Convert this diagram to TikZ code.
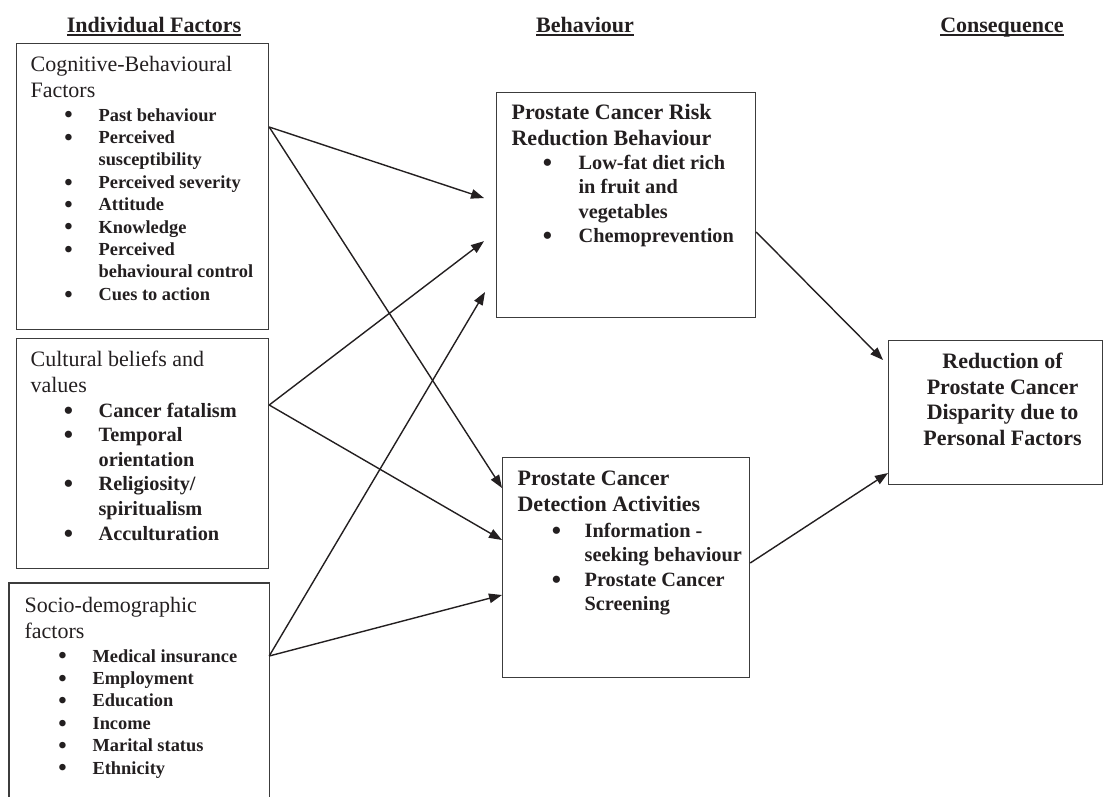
\documentclass[tikz,border=0pt]{standalone}
\usepackage{graphicx}
\usepackage{fontspec}
\setmainfont{Liberation Serif}
\usetikzlibrary{arrows.meta, positioning}

\definecolor{ink}{HTML}{231F20}
\definecolor{edgegray}{HTML}{3C3C3C}

\newlength{\bulpos}
\newlength{\txtpos}
% one bullet line, wrapped lines hang under the text
\newcommand{\bigdot}{\raisebox{-0.1em}{\scalebox{1.3}{\textbullet}}}
\newcommand{\bitem}[1]{\par\hangindent=\txtpos\hangafter=1\noindent
  \hspace*{\dimexpr\bulpos-0.2275em\relax}\makebox[\dimexpr\txtpos-\bulpos+0.2275em\relax][l]{\bigdot}#1\par}
% underlined heading
\newcommand{\hd}[1]{\setbox0\hbox{#1}\rlap{\rule[-3.6pt]{\wd0}{2pt}}\box0}
\newcommand{\regfont}{\fontsize{22}{25.5}\selectfont}
\newcommand{\headfont}{\fontsize{22}{25.5}\selectfont\bfseries}
\newcommand{\smallbul}{\fontsize{18.4}{22.4}\selectfont\bfseries}
\newcommand{\bigbul}{\fontsize{20.3}{24.6}\selectfont\bfseries}

\tikzset{
  panel/.style={draw=edgegray, line width=1.2pt, inner sep=0pt, anchor=north west, text=ink},
  link/.style={-{Triangle[length=13pt,width=9.5pt]}, line width=1.4pt, draw=ink},
  heading/.style={anchor=base, inner sep=0pt, text=ink, font=\headfont}
}

\begin{document}
\begin{tikzpicture}[x=1pt, y=-1pt]
  \useasboundingbox (0,0) rectangle (1103,796);

  % column headings
  \node[heading] (hInd) at (154,32) {\hd{Individual Factors}};
  \node[heading] (hBeh) at (585,32) {\hd{Behaviour}};
  \node[heading] (hCon) at (1002,32) {\hd{Consequence}};

  % individual factors
  \node[panel] (cog) at (16,43) {\parbox[c][286pt][t]{252pt}{\raggedright\parindent=0pt
    \regfont\leftskip=14pt
    \rule{0pt}{28pt}Cognitive-Behavioural\\Factors\par
    \leftskip=0pt\vspace{1.6pt}
    \smallbul\setlength{\bulpos}{52pt}\setlength{\txtpos}{82pt}
    \bitem{Past behaviour}
    \bitem{Perceived\newline susceptibility}
    \bitem{Perceived severity}
    \bitem{Attitude}
    \bitem{Knowledge}
    \bitem{Perceived\newline behavioural control}
    \bitem{Cues to action}}};

  \node[panel] (cult) at (16,338) {\parbox[c][230pt][t]{252pt}{\raggedright\parindent=0pt
    \regfont\leftskip=14pt
    \rule{0pt}{28pt}Cultural beliefs and\\values\par
    \leftskip=0pt\vspace{0.4pt}
    \bigbul\setlength{\bulpos}{52pt}\setlength{\txtpos}{82pt}
    \bitem{Cancer fatalism}
    \bitem{Temporal\newline orientation}
    \bitem{Religiosity/\newline spiritualism}
    \bitem{Acculturation}}};

  \node[panel, draw=none] (socio) at (9,583) {\parbox[c][217pt][t]{259pt}{\raggedright\parindent=0pt
    \regfont\leftskip=15pt
    \rule{0pt}{29pt}Socio-demographic\\factors\par
    \leftskip=0pt\vspace{1.6pt}
    \smallbul\setlength{\bulpos}{53pt}\setlength{\txtpos}{83pt}
    \bitem{Medical insurance}
    \bitem{Employment}
    \bitem{Education}
    \bitem{Income}
    \bitem{Marital status}
    \bitem{Ethnicity}}};
  \draw[draw=edgegray, line width=1.2pt] (socio.south west) |- (socio.north east) -- (socio.south east);

  % behaviour
  \node[panel] (risk) at (496,92) {\parbox[c][225pt][t]{259pt}{\raggedright\parindent=0pt
    \headfont\leftskip=15pt
    \rule{0pt}{27pt}Prostate Cancer Risk\\Reduction Behaviour\par
    \leftskip=0pt\vspace{-0.6pt}
    \bigbul\setlength{\bulpos}{51pt}\setlength{\txtpos}{82pt}
    \bitem{Low-fat diet rich\newline in fruit and\newline vegetables}
    \bitem{Chemoprevention}}};

  \node[panel] (detect) at (502,457) {\parbox[c][220pt][t]{247pt}{\raggedright\parindent=0pt
    \headfont\leftskip=15pt
    \rule{0pt}{28pt}Prostate Cancer\\Detection Activities\par
    \leftskip=0pt\vspace{1.4pt}
    \bigbul\setlength{\bulpos}{54pt}\setlength{\txtpos}{82pt}
    \bitem{Information -\newline seeking behaviour}
    \bitem{Prostate Cancer\newline Screening}}};

  % consequence
  \node[panel] (reduce) at (888,340) {\parbox[c][144pt][t]{213.5pt}{\centering\parindent=0pt
    \headfont\leftskip=14.5pt plus 1fil
    \rule{0pt}{28pt}Reduction of\\Prostate Cancer\\Disparity due to\\Personal Factors}};

  % links
  \draw[link, shorten >=12.6pt] ([yshift=-84pt]cog.north east) -- ([yshift=-110pt]risk.north west);
  \draw[link] ([yshift=-84pt]cog.north east) -- ([yshift=-31pt]detect.north west);
  \draw[link, shorten >=15.1pt] ([yshift=-67pt]cult.north east) -- ([yshift=-140pt]risk.north west);
  \draw[link] ([yshift=-67pt]cult.north east) -- ([yshift=-83pt]detect.north west);
  \draw[link, shorten >=21.5pt] ([yshift=-73pt]socio.north east) -- ([yshift=-181.5pt]risk.north west);
  \draw[link] ([yshift=-73pt]socio.north east) -- ([yshift=-138pt]detect.north west);
  \draw[link, shorten >=7pt] ([yshift=-140pt]risk.north east) -- ([yshift=-25pt]reduce.north west);
  \draw[link] ([yshift=-106pt]detect.north east) -- ([yshift=-133pt]reduce.north west);
\end{tikzpicture}
\end{document}
